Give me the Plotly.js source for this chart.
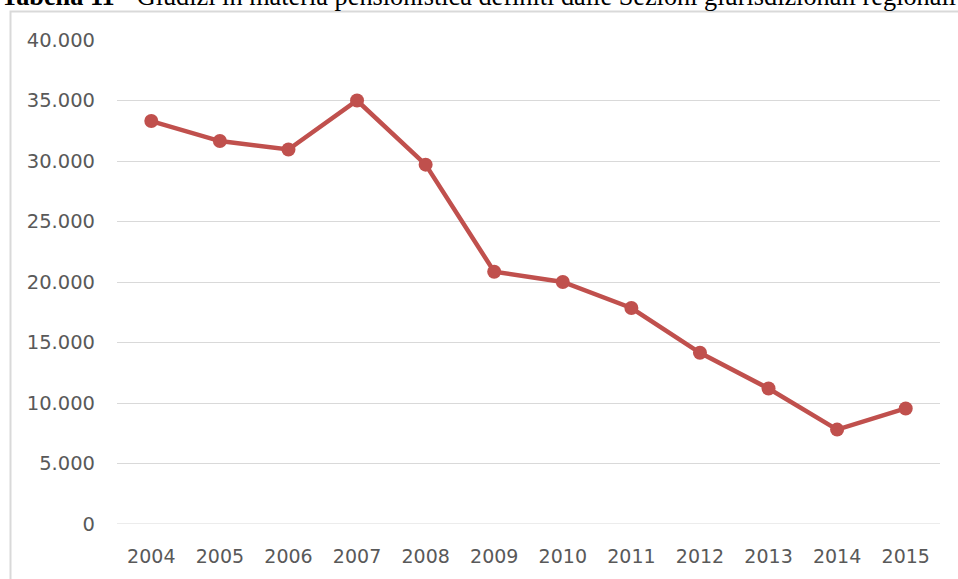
<!DOCTYPE html>
<html>
<head>
<meta charset="utf-8">
<script src="https://cdn.plot.ly/plotly-3.0.1.min.js"></script>
<style>
  html, body { margin: 0; padding: 0; background: #ffffff; }
  #chart { width: 958px; height: 579px; }
</style>
</head>
<body>
<div id="chart"></div>
<script>
// Giudizi in materia pensionistica definiti, per anno
const years = ['2004', '2005', '2006', '2007', '2008', '2009', '2010', '2011', '2012', '2013', '2014', '2015'];
const giudizi = [33300, 31650, 30950, 35000, 29700, 20850, 20000, 17850, 14150, 11200, 7800, 9550];
const yTicks = [0, 5000, 10000, 15000, 20000, 25000, 30000, 35000, 40000];

const titleText = '<b>Tabella 11</b> - Giudizi in materia pensionistica definiti dalle Sezioni giurisdizionali regionali';

const W = 958, H = 579;
const margin = { l: 117, r: 18, t: 40, b: 55, pad: 0 };
const plotW = W - margin.l - margin.r;
const plotH = H - margin.t - margin.b;
// pixel -> paper helpers for decorations outside the plot area
const px = x => (x - margin.l) / plotW;
const py = y => (H - margin.b - y) / plotH;

const trace = {
  type: 'scatter',
  mode: 'lines+markers',
  x: years,
  y: giudizi,
  line: { color: '#c0504d', width: 4.5 },
  marker: { color: '#c0504d', size: 14 },
  hoverinfo: 'x+y'
};

const layout = {
  width: W,
  height: H,
  margin: margin,
  separators: ',.',
  paper_bgcolor: '#ffffff',
  plot_bgcolor: '#ffffff',
  showlegend: false,
  font: { family: 'DejaVu Sans, sans-serif', color: '#595959', size: 19 },
  xaxis: {
    type: 'category',
    range: [-0.5, years.length - 0.5],
    showgrid: false,
    zeroline: false,
    showline: false,
    ticks: '',
    ticklabelstandoff: 19,
    tickfont: { family: 'DejaVu Sans, sans-serif', size: 19, color: '#595959' }
  },
  yaxis: {
    range: [0, 40000],
    tickvals: yTicks,
    tickformat: ',d',
    showgrid: true,
    gridcolor: '#d9d9d9',
    gridwidth: 1,
    zeroline: false,
    showline: false,
    ticks: '',
    ticklabelstandoff: 21,
    tickfont: { family: 'DejaVu Sans, sans-serif', size: 19.5, color: '#595959' }
  },
  shapes: [
    {
      type: 'rect',
      xref: 'paper', yref: 'paper',
      x0: px(10.5), x1: px(980),
      y0: py(600), y1: py(11.5),
      line: { color: '#d9d9d9', width: 2 },
      fillcolor: 'rgba(0,0,0,0)',
      layer: 'below'
    },
    {
      type: 'line',
      xref: 'paper', yref: 'y',
      x0: 0, x1: 1, y0: 0, y1: 0,
      line: { color: '#d9d9d9', width: 1 },
      layer: 'below'
    }
  ],
  annotations: [
    {
      text: titleText,
      xref: 'paper', yref: 'paper',
      x: px(-1), y: py(-4),
      xanchor: 'left', yanchor: 'middle',
      showarrow: false,
      font: { family: 'Liberation Serif, Times New Roman, serif', size: 26.3, color: '#000000' }
    }
  ]
};

Plotly.newPlot('chart', [trace], layout, { displayModeBar: false, staticPlot: true });
</script>
</body>
</html>
